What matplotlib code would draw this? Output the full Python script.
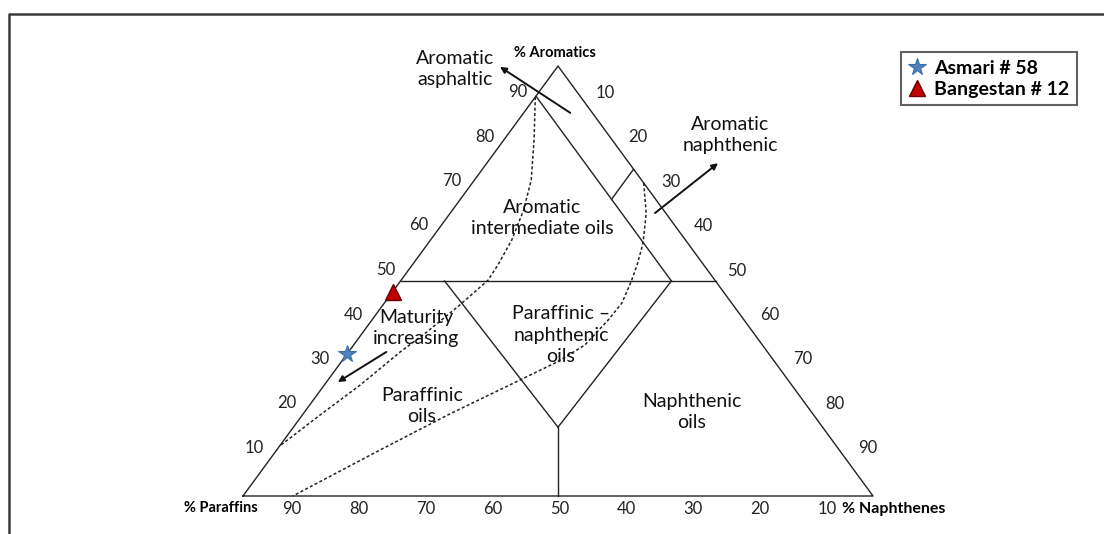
import matplotlib
matplotlib.use("Agg")
import matplotlib.pyplot as plt

plt.rcParams['font.family'] = ['Lato', 'DejaVu Sans']

# Ternary vertices (pixel space): Paraffins, Naphthenes, Aromatics
VP = (243, 496)
VN = (873, 496)
VA = (558, 66)


def tern(p, n, a):
    x = (p * VP[0] + n * VN[0] + a * VA[0]) / 100.0
    y = (p * VP[1] + n * VN[1] + a * VA[1]) / 100.0
    return x, y


def tern_path(comps):
    xs, ys = zip(*[tern(*c) for c in comps])
    return list(xs), list(ys)


# Samples (% Paraffins, % Naphthenes, % Aromatics)
samples = ["Asmari # 58", "Bangestan # 12"]
sample_comp = [(67, 0, 33), (52.5, 0, 47.5)]

# Tick values
aromatic_ticks = [10, 20, 30, 40, 50, 60, 70, 80, 90]
naphthene_ticks = [10, 20, 30, 40, 50, 60, 70, 80, 90]
paraffin_ticks = [90, 80, 70, 60, 50, 40, 30, 20, 10]

# Classification boundaries (P, N, A)
boundaries = [
    [(100, 0, 0), (0, 100, 0), (0, 0, 100), (100, 0, 0)],
    [(50, 0, 50), (0, 50, 50)],
    [(7, 0, 93), (7, 43, 50)],
    [(0, 24, 76), (7, 24, 69)],
    [(43, 7, 50), (42, 42, 16)],
    [(7, 43, 50), (42, 42, 16)],
    [(42, 42, 16), (50, 50, 0)],
]

# Maturity trend curves (P, N, A)
trend_upper = [(7.2, 0, 92.8), (12.4, 4.8, 82.8), (17.5, 9.0, 73.5), (22.2, 11.3, 66.5),
               (27.6, 12.9, 59.5), (32.7, 13.6, 53.7), (36.0, 13.8, 50.2), (43.4, 12.2, 44.4),
               (51.8, 10.1, 38.1), (58.3, 8.2, 33.5), (68.5, 5.7, 25.8), (78.4, 2.8, 18.8),
               (88.4, 0, 11.6)]
trend_lower = [(0, 27.2, 72.8), (3.1, 31.1, 65.8), (7.1, 34.1, 58.8), (10.6, 35.7, 53.7),
               (13.5, 36.7, 49.8), (17.4, 37.7, 44.9), (21.6, 37.5, 40.9), (28.2, 36.7, 35.1),
               (34.5, 34.3, 31.2), (42.5, 30.5, 27.0), (57.6, 23.3, 19.1), (72.9, 16.4, 10.7),
               (92.1, 7.9, 0)]

# Direction arrows (tail, head) in (P, N, A)
arrows = [
    ((3.5, 7.4, 89.1), (9.3, -9.1, 99.8)),
    ((1.7, 32.5, 65.8), (-14.1, 36.7, 77.4)),
    ((60.5, 6.0, 33.5), (71.7, 1.8, 26.5)),
]

fig = plt.figure(figsize=(11.04, 5.34), dpi=100)
ax = fig.add_axes([0, 0, 1, 1])
ax.set_xlim(0, 1104)
ax.set_ylim(534, 0)
ax.axis('off')

# page frame
ax.plot([9, 9, 1104], [534, 14, 14], color='#3a3a3a', lw=1.8, solid_capstyle='butt')

line_kw = dict(color='#222222', lw=1.0)
for seg in boundaries:
    xs, ys = tern_path(seg)
    ax.plot(xs, ys, **line_kw)

for curve in (trend_upper, trend_lower):
    xs, ys = tern_path(curve)
    ax.plot(xs, ys, color='#222222', lw=1.1, linestyle=(0, (2.0, 1.5)))

for tail, head in arrows:
    ax.annotate('', xy=tern(*head), xytext=tern(*tail),
                arrowprops=dict(arrowstyle='-|>', color='#111111', lw=1.4,
                                mutation_scale=9, shrinkA=0, shrinkB=0))

# tick labels
tick_kw = dict(fontsize=12, color='#222222', ha='center', va='center')
for v in aromatic_ticks:
    ax.text(254 + 3.3 * (v - 10), 448 - 4.45 * (v - 10), str(v), **tick_kw)
for v in naphthene_ticks:
    ax.text(605 + 3.29 * (v - 10), 93 + 4.44 * (v - 10), str(v), **tick_kw)
for v in paraffin_ticks:
    ax.text(292 + 6.69 * (90 - v), 509, str(v), **tick_kw)

ax.text(555, 53, '% Aromatics', fontsize=10.5, fontweight='bold', ha='center', va='center')
ax.text(221, 508, '% Paraffins', fontsize=10.5, fontweight='bold', ha='center', va='center')
ax.text(894, 509, '% Naphthenes', fontsize=11.5, fontweight='bold', ha='center', va='center')

reg_kw = dict(fontsize=14, color='#111111', ha='center', va='center', linespacing=1.35)
ax.text(455, 69, 'Aromatic\nasphaltic', **reg_kw)
ax.text(730, 135, 'Aromatic\nnaphthenic', **reg_kw)
ax.text(542, 218, 'Aromatic\nintermediate oils', **reg_kw)
ax.text(561, 335, 'Paraffinic \u2013\nnaphthenic\noils', **reg_kw)
ax.text(416, 328, 'Maturity\nincreasing', **reg_kw)
ax.text(422, 406, 'Paraffinic\noils', **reg_kw)
ax.text(692, 412, 'Naphthenic\noils', **reg_kw)

# samples
sx, sy = tern(*sample_comp[0])
ax.plot([sx], [sy], marker='*', ms=13, color='#4f81bd', mec='#3a6ea5', mew=0.8,
        linestyle='none', label=samples[0])
tx, ty = tern(*sample_comp[1])
ax.plot([tx], [ty], marker='^', ms=12, color='#c00000', mec='#6a0000', mew=1.0,
        linestyle='none', label=samples[1])

leg = ax.legend(loc='upper left', bbox_to_anchor=(901 / 1104, 1 - 52 / 534),
                frameon=True, fancybox=False, handlelength=0.8, handletextpad=0.5,
                borderpad=0.4, labelspacing=0.2, borderaxespad=0,
                prop=dict(weight='bold', size=14))
leg.get_frame().set_edgecolor('#3a3a3a')
leg.get_frame().set_linewidth(1.5)

fig.savefig('out.png', dpi=100)
